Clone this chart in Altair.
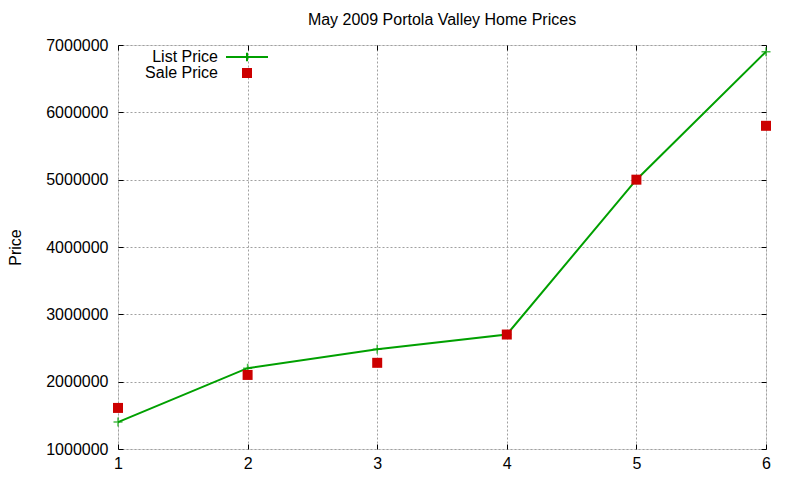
import altair as alt
import pandas as pd

x_vals = [1, 2, 3, 4, 5, 6]
list_price = [1400000, 2200000, 2480000, 2700000, 5000000, 6900000]
sale_price = [1610000, 2100000, 2280000, 2700000, 5000000, 5800000]
y_ticks = [1000000, 2000000, 3000000, 4000000, 5000000, 6000000, 7000000]
x_ticks = [1, 2, 3, 4, 5, 6]

FONT = "Liberation Sans"
GREEN = "#00a000"
RED = "#cc0000"

df_list = pd.DataFrame({"x": x_vals, "price": list_price, "series": "List Price"})
df_sale = pd.DataFrame({"x": x_vals, "price": sale_price, "series": "Sale Price"})

xscale = alt.Scale(domain=[1, 6], nice=False, zero=False)
yscale = alt.Scale(domain=[1000000, 7000000], nice=False, zero=False)

def tick_axis(orient):
    return alt.Axis(orient=orient, values=y_ticks if orient in ("left", "right") else x_ticks,
                    offset=-5, tickSize=5, ticks=True, labels=False, domain=False,
                    grid=False, title=None, tickColor="black", tickWidth=1)

line = alt.Chart(df_list).mark_line(strokeWidth=2).encode(
    x=alt.X("x:Q", scale=xscale,
            axis=alt.Axis(orient="bottom", values=x_ticks, format="d", ticks=False,
                          domain=False, grid=True, gridColor="#a0a0a0", gridDash=[2, 2],
                          labelFontSize=16, labelFont=FONT, labelColor="black",
                          labelPadding=6, labelFlush=False, title=None)),
    y=alt.Y("price:Q", scale=yscale,
            axis=alt.Axis(orient="left", values=y_ticks, format="d", ticks=False,
                          domain=False, grid=True, gridColor="#a0a0a0", gridDash=[2, 2],
                          labelFontSize=16, labelFont=FONT, labelColor="black",
                          labelPadding=10, labelFlush=False, title="Price", titleFont=FONT,
                          titleFontSize=16, titleFontWeight="normal", titleColor="black",
                          titlePadding=22)),
    color=alt.Color("series:N",
                    scale=alt.Scale(domain=["List Price"], range=[GREEN]),
                    legend=alt.Legend(title=None, orient="none", legendX=107, legendY=-10,
                                      symbolType="M-1,0H1M0,-0.2V0.2", symbolSize=1764,
                                      symbolStrokeWidth=2, labelAlign="right",
                                      labelOffset={"expr": "-51"}, labelFontSize=16,
                                      labelFont=FONT, labelColor="black", padding=0)),
)

list_pts = alt.Chart(df_list).mark_point(
    shape="M-1,0H1M0,-1V1", size=81, strokeWidth=1.5, color=GREEN, filled=False
).encode(
    x=alt.X("x:Q", scale=xscale, axis=tick_axis("bottom")),
    y=alt.Y("price:Q", scale=yscale, axis=tick_axis("left")),
)

sale_pts = alt.Chart(df_sale).mark_point(
    shape="square", size=100, filled=True, opacity=1
).encode(
    x=alt.X("x:Q", scale=xscale, axis=tick_axis("top")),
    y=alt.Y("price:Q", scale=yscale, axis=tick_axis("right")),
    fill=alt.Fill("series:N",
                  scale=alt.Scale(domain=["Sale Price"], range=[RED]),
                  legend=alt.Legend(title=None, orient="none", legendX=121, legendY=20,
                                    symbolType="square", symbolSize=100,
                                    symbolStrokeWidth=0, labelAlign="right",
                                    labelOffset={"expr": "-37"}, labelFontSize=16,
                                    labelFont=FONT, labelColor="black", padding=0,
                                    symbolOpacity=1)),
)

chart = alt.layer(line, list_pts, sale_pts).resolve_axis(
    x="independent", y="independent"
).resolve_scale(color="independent", fill="independent").properties(
    width=648,
    height=404,
    autosize=alt.AutoSizeParams(type="none"),
    padding={"left": 110, "top": 37, "right": 26, "bottom": 25},
    title=alt.Title("May 2009 Portola Valley Home Prices", font=FONT, fontSize=16,
                    fontWeight="normal", color="black", offset=7),
).configure_view(stroke="black", strokeWidth=1).configure(background="white")

chart.save("out.html", embed_options={"renderer": "svg", "actions": False})
